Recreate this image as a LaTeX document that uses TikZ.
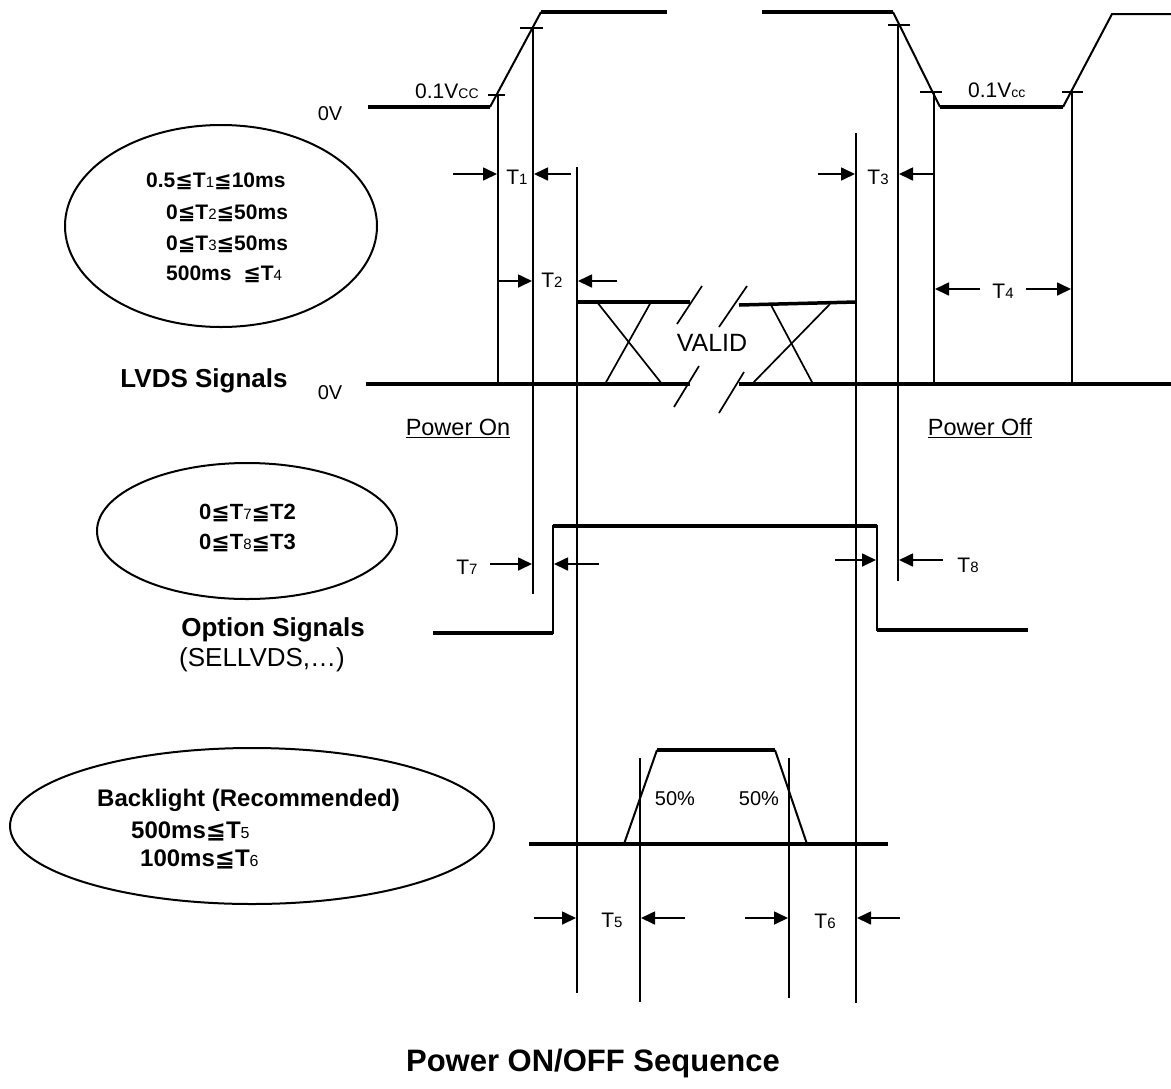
\documentclass[tikz,border=0pt]{standalone}
\usepackage{fontspec}
\setmainfont{Liberation Sans}
\newfontfamily\symf{DejaVu Sans}
\usetikzlibrary{arrows.meta,shapes.geometric}
\newcommand\lqq{{\symf ≦}}
\newcommand\sbs[2]{{\fontsize{#1}{#1}\mdseries\selectfont #2}}
\newcommand\fz[1]{\fontsize{#1}{#1}\selectfont}
\tikzset{
  sig/.style={line width=3.5pt},
  edgeln/.style={line width=2pt},
  guide/.style={line width=1.7pt},
  dimarrow/.style={line width=1.7pt,-{Triangle[length=14pt,width=13pt]}},
  tick/.style={line width=1.7pt},
  lbl/.style={inner sep=0pt,font=\fz{21}},
  cond/.style={draw,ellipse,inner sep=0pt,line width=2pt},
  ctext/.style={inner sep=0pt,anchor=base west},
}
\begin{document}
\begin{tikzpicture}[x=1pt,y=-1pt]
\useasboundingbox (0,0) rectangle (1171,1088);
% ---------- supply (top) ----------
\draw[sig] (368,107) -- (490,107);
\draw[edgeln] (490,107) -- (541,12);
\draw[sig] (541,12) -- (667,12);
\draw[sig] (762,12) -- (893,12);
\draw[edgeln] (893,12) -- (940,107);
\draw[sig] (940,107) -- (1063,107);
\draw[edgeln] (1063,107) -- (1112,14) -- (1171,14);
\draw[tick] (488,95) -- (505,95);
\draw[tick] (520,28) -- (543,28);
\draw[tick] (888,25) -- (910,25);
\draw[tick] (920,92) -- (942,92);
\draw[tick] (1062,92) -- (1083,92);
\node[lbl,anchor=base west] (vcc1) at (415,98) {0.1V\sbs{14}{CC}};
\node[lbl,anchor=base west] (vcc2) at (968,97) {0.1V\sbs{14}{cc}};
\node[lbl,font=\fz{20}] (zv1) at (330,114) {0V};
% ---------- guide lines ----------
\draw[guide] (498,95) -- (498,384);
\draw[guide] (533,28) -- (533,594);
\draw[guide] (577,167) -- (577,993);
\draw[guide] (856,133) -- (856,1003);
\draw[guide] (898,25) -- (898,581);
\draw[guide] (934,92) -- (934,384);
\draw[guide] (1072,92) -- (1072,384);
\draw[guide] (640,758) -- (640,1002);
\draw[guide] (789,758) -- (789,998);
% ---------- LVDS ----------
\draw[sig] (366,384) -- (690,384);
\draw[sig] (739,384) -- (1171,384);
\draw[sig] (576,302) -- (690,302);
\draw[sig] (739,305) -- (856,302);
\draw[guide] (597,302) -- (662,384);
\draw[guide] (651,302) -- (605,384);
\draw[guide] (771,305) -- (813,384);
\draw[guide] (830,304) -- (752,384);
\draw[guide] (677,324) -- (702,286);
\draw[guide] (719,327) -- (747,286);
\draw[guide] (674,407) -- (699,366);
\draw[guide] (719,413) -- (744,372);
\node[lbl,font=\fz{25}] (valid) at (712,343) {VALID};
\node[lbl,font=\fz{20}] (zv2) at (330,393) {0V};
\node[lbl,font=\bfseries\fz{26}] (lvds) at (204,381) {LVDS Signals};
\node[lbl,font=\fz{23.5}] (pon) at (458,428) {\underline{Power On}};
\node[lbl,font=\fz{23.5}] (poff) at (980,428) {\underline{Power Off}};
% ---------- dimension arrows ----------
\draw[dimarrow] (453,174) -- (497,174);
\draw[dimarrow] (571,174) -- (534,174);
\node[lbl] (t1) at (517,177) {T\sbs{15}{1}};
\draw[dimarrow] (499,281) -- (532,281);
\draw[dimarrow] (617,281) -- (578,281);
\node[lbl] (t2) at (552,280) {T\sbs{15}{2}};
\draw[dimarrow] (818,174) -- (855,174);
\draw[dimarrow] (933,174) -- (899,174);
\node[lbl] (t3) at (878,177) {T\sbs{15}{3}};
\draw[dimarrow] (980,289) -- (935,289);
\draw[dimarrow] (1026,289) -- (1071,289);
\node[lbl] (t4) at (1003,291) {T\sbs{15}{4}};
\draw[dimarrow] (490,564) -- (532,564);
\draw[dimarrow] (599,564) -- (554,564);
\node[lbl] (t7) at (467,567) {T\sbs{15}{7}};
\draw[dimarrow] (835,560) -- (876,560);
\draw[dimarrow] (943,560) -- (899,560);
\node[lbl] (t8) at (968,565) {T\sbs{15}{8}};
\draw[dimarrow] (534,918) -- (576,918);
\draw[dimarrow] (685,918) -- (641,918);
\node[lbl] (t5) at (612,920) {T\sbs{15}{5}};
\draw[dimarrow] (745,918) -- (788,918);
\draw[dimarrow] (900,918) -- (857,918);
\node[lbl] (t6) at (825,921) {T\sbs{15}{6}};
% ---------- option signals ----------
\draw[sig] (433,633) -- (553,633);
\draw[edgeln] (553,634) -- (553,525);
\draw[sig] (553,526) -- (877,526);
\draw[edgeln] (877,525) -- (877,631);
\draw[sig] (877,630) -- (1028,630);
\node[lbl,font=\bfseries\fz{26}] (opt) at (273,630) {Option Signals};
\node[lbl,font=\fz{26},anchor=west] (sel) at (179,660) {(SELLVDS,…)};
% ---------- backlight ----------
\draw[sig] (529,844) -- (888,844);
\draw[edgeln] (624,844) -- (657,750);
\draw[sig] (657,750) -- (775,750);
\draw[edgeln] (775,750) -- (807,844);
\node[lbl,font=\fz{20}] (p50a) at (675,799) {50\%};
\node[lbl,font=\fz{20}] (p50b) at (759,799) {50\%};
% ---------- condition ellipses ----------
\node[cond,minimum width=312pt,minimum height=202pt] (c1) at (221,226) {};
\node[ctext,font=\bfseries\fz{21}] (c1a) at (146,187) {0.5\lqq T\sbs{15}{1}\lqq 10ms};
\node[ctext,font=\bfseries\fz{21}] (c1b) at (166,219) {0\lqq T\sbs{15}{2}\lqq 50ms};
\node[ctext,font=\bfseries\fz{21}] (c1c) at (166,250) {0\lqq T\sbs{15}{3}\lqq 50ms};
\node[ctext,font=\bfseries\fz{21}] (c1d) at (166,280) {500ms\ \ \lqq T\sbs{15}{4}};
\node[cond,minimum width=300pt,minimum height=136pt] (c2) at (247,531) {};
\node[ctext,font=\bfseries\fz{22}] (c2a) at (199,519) {0\lqq T\sbs{15}{7}\lqq T2};
\node[ctext,font=\bfseries\fz{22}] (c2b) at (199,549) {0\lqq T\sbs{15}{8}\lqq T3};
\node[cond,minimum width=484pt,minimum height=156pt] (c3) at (252,826) {};
\node[ctext,font=\bfseries\fz{24}] (c3a) at (97,806) {Backlight (Recommended)};
\node[ctext,font=\bfseries\fz{24}] (c3b) at (131,838) {500ms\lqq T\sbs{16}{5}};
\node[ctext,font=\bfseries\fz{24}] (c3c) at (140,866) {100ms\lqq T\sbs{16}{6}};
% ---------- title ----------
\node[lbl,font=\bfseries\fz{31}] (title) at (593,1063) {Power ON/OFF Sequence};
\end{tikzpicture}
\end{document}
